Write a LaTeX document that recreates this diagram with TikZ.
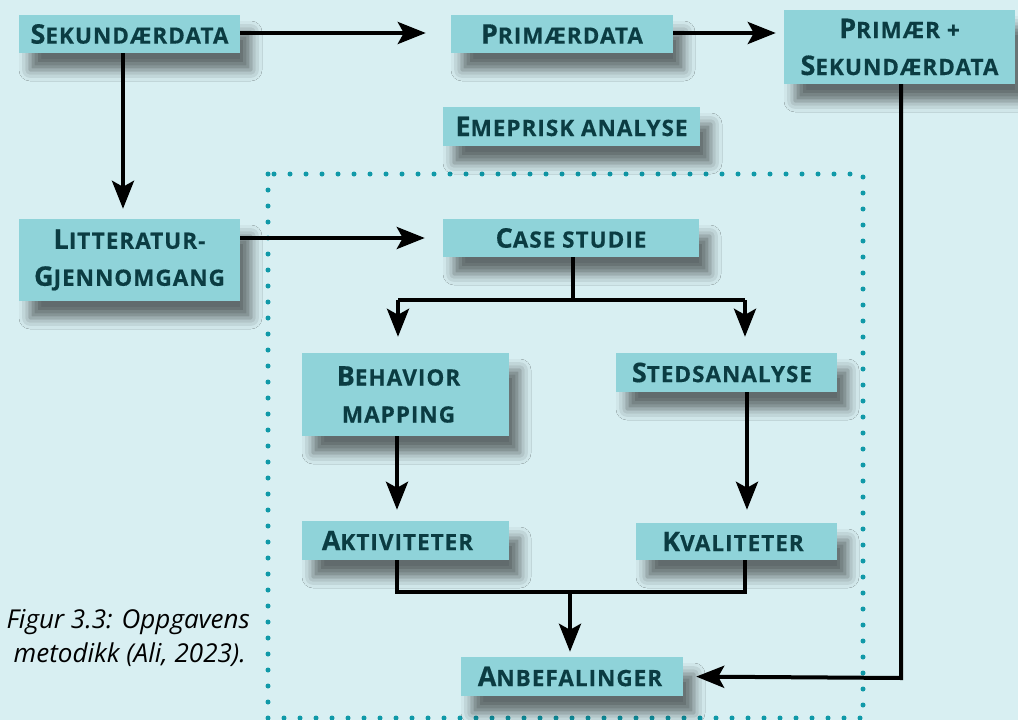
\documentclass[tikz,border=0pt]{standalone}
\usepackage{fontspec}
\setmainfont{Open Sans}
\newfontfamily\lblfont[LetterSpace=4.5, BoldFeatures={FakeBold=0.4}]{Open Sans}
\usetikzlibrary{arrows.meta,shadows.blur}
\definecolor{bgc}{HTML}{D8EFF2}
\definecolor{boxc}{HTML}{8FD3D9}
\definecolor{txtc}{HTML}{0B3C42}
\definecolor{dotc}{HTML}{1099A8}
\newcommand\BigL[1]{{\fontsize{27pt}{37pt}\selectfont #1}}
\tikzset{
  box/.style={fill=boxc, draw=none, inner sep=0pt, text=txtc,
    font=\lblfont\bfseries\fontsize{22.5pt}{37pt}\selectfont,
    align=center,
    blur shadow={shadow xshift=11pt, shadow yshift=-17pt, shadow blur radius=11pt, shadow opacity=55}},
  conn/.style={line width=4pt, draw=black},
  arr/.style={conn, -{Stealth[length=28pt,width=22pt,inset=6pt]}},
  dotbox/.style={draw=dotc, line width=5pt, line cap=round, dash pattern=on 0pt off 16pt},
  captxt/.style={anchor=base east, inner sep=0pt, text=black, font=\itshape\fontsize{26pt}{34pt}\selectfont}
}
\begin{document}
\begin{tikzpicture}[x=1pt,y=-1pt]
\fill[bgc] (0,0) rectangle (1018,720);
\useasboundingbox (0,0) rectangle (1018,720);
% dotted frame
\draw[dotbox] (268,174) rectangle (863,718);
% boxes
\node[box, minimum width=221pt, minimum height=38pt] (sek) at (129.5,34) {\BigL{S}EKUNDÆRDATA};
\node[box, minimum width=222pt, minimum height=38pt] (prim) at (562,34) {\BigL{P}RIMÆRDATA};
\node[box, minimum width=231pt, minimum height=74pt] (pps) at (899.5,47) {\BigL{P}RIMÆR +\\\BigL{S}EKUNDÆRDATA};
\node[box, minimum width=257pt, minimum height=39pt] (emp) at (571.5,126.5) {\BigL{E}MEPRISK ANALYSE};
\node[box, minimum width=221pt, minimum height=82pt] (lit) at (129.5,260) {\BigL{L}ITTERATUR-\\\BigL{G}JENNOMGANG};
\node[box, minimum width=256pt, minimum height=38pt] (case) at (571,238) {\BigL{C}ASE STUDIE};
\node[box, minimum width=207pt, minimum height=83pt] (beh) at (405.5,394.5) {\BigL{B}EHAVIOR\hspace*{14pt}\\MAPPING\hspace*{14pt}};
\node[box, minimum width=221pt, minimum height=39pt] (sted) at (726.5,372.5) {\BigL{S}TEDSANALYSE\hspace*{9pt}};
\node[box, minimum width=207pt, minimum height=39pt] (akt) at (405.5,540.5) {\BigL{A}KTIVITETER\hspace*{16pt}};
\node[box, minimum width=201pt, minimum height=37pt] (kval) at (736.5,541.5) {\BigL{K}VALITETER\hspace*{7pt}};
\node[box, minimum width=222pt, minimum height=39pt] (anb) at (572,676.5) {\BigL{A}NBEFALINGER\hspace*{4pt}};
% caption
\node[captxt] (cap1) at (250,628) {Figur 3.3: Oppgavens};
\node[captxt] (cap2) at (246,662) {metodikk (Ali, 2023).};
% junction coordinates
\coordinate (j1) at (573,300);
\coordinate (jl) at (398,300);
\coordinate (jr) at (745,300);
\coordinate (j2) at (397,592);
\coordinate (j3) at (745,592);
\coordinate (j4) at (570,592);
\coordinate (j5) at (901,678);
% connectors
\draw[arr, shorten >=25pt] (sek.east |- 0,33) -- (prim.west |- 0,33);
\draw[arr, shorten >=8pt] (prim.east |- 0,33) -- (pps.west |- 0,33);
\draw[arr, shorten >=10pt] (sek.south -| 123,0) -- (lit.north -| 123,0);
\draw[arr, shorten >=18pt] (lit.east |- case.west) -- (case.west);
\draw[conn] (case.south -| j1) -- (j1);
\draw[conn] (jl) -- (jr);
\draw[arr, shorten >=16pt] (jl) -- (beh.north -| jl);
\draw[arr, shorten >=16pt] (jr) -- (sted.north -| jr);
\draw[arr, shorten >=11pt] (beh.south -| 397,0) -- (akt.north -| 397,0);
\draw[arr, shorten >=13pt] (sted.south -| 747,0) -- (kval.north -| 747,0);
\draw[conn] (akt.south -| j2) -- (j2) -- (j3) -- (kval.south -| j3);
\draw[arr, shorten >=5pt] (j4) -- (anb.north -| j4);
\draw[arr, shorten >=13pt] (pps.south -| j5) -- (j5) -- (anb.east);
\end{tikzpicture}
\end{document}
